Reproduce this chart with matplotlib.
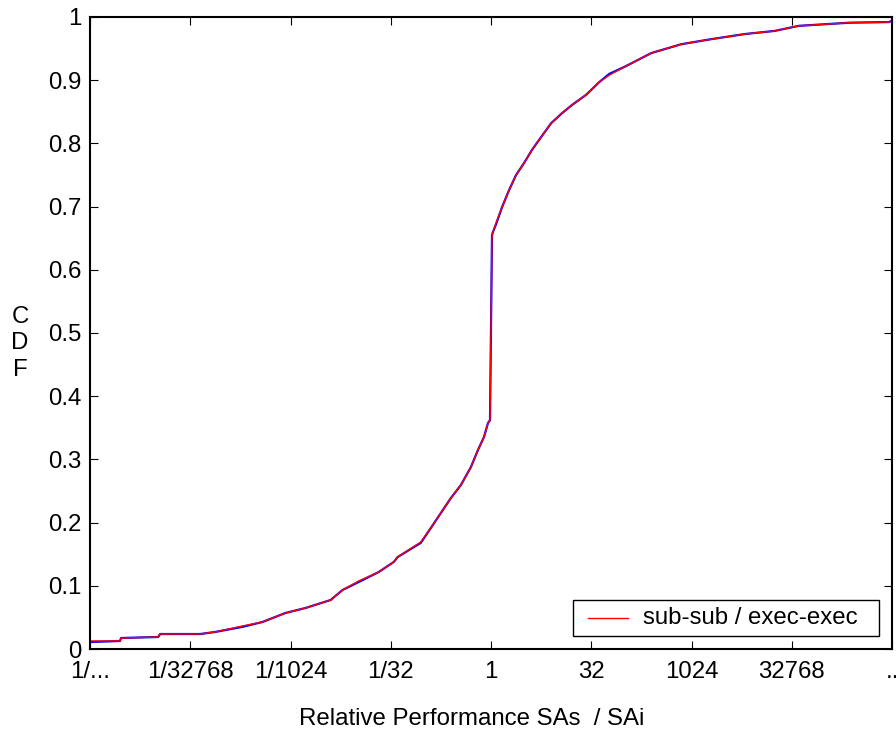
import matplotlib
matplotlib.use("Agg")
from matplotlib import pyplot
from matplotlib.patches import Rectangle
from numpy import array

pyplot.rcParams["font.family"] = ["Liberation Sans", "DejaVu Sans"]

# log2 of the ratio SAs / SAi and the cumulative fraction
ratio_log2 = [
    -20.0, -18.5, -18.45, -16.6, -16.5, -14.5, -13.75, -12.4, -11.4, -10.25,
    -9.25, -8.0, -7.4, -6.6, -5.6, -4.85, -4.65, -3.5, -3.0, -2.5,
    -2.0, -1.5, -1.0, -0.65, -0.35, -0.15, -0.05, 0.05, 0.1, 0.25,
    0.55, 0.9, 1.25, 1.65, 2.05, 2.5, 3.0, 3.55, 4.05, 4.75,
    5.4, 5.9, 6.65, 8.0, 9.5, 11.0, 12.65, 14.15, 15.35, 17.9,
    19.85, 20.0,
]
cdf_sub = [
    0.0127, 0.0127, 0.0174, 0.019, 0.0237, 0.0237, 0.027, 0.0364, 0.0427, 0.057,
    0.0649, 0.0775, 0.0934, 0.1076, 0.1218, 0.1377, 0.1456, 0.1693, 0.1915, 0.2152,
    0.2389, 0.2595, 0.288, 0.3149, 0.3354, 0.3576, 0.362, 0.655, 0.66, 0.674,
    0.699, 0.726, 0.75, 0.769, 0.79, 0.81, 0.832, 0.848, 0.861, 0.877,
    0.897, 0.908, 0.921, 0.943, 0.957, 0.965, 0.973, 0.978, 0.986, 0.991,
    0.992, 0.994,
]
cdf_exec = [
    0.0110, 0.0127, 0.0174, 0.019, 0.0237, 0.0237, 0.027, 0.0350, 0.0427, 0.057,
    0.0649, 0.0775, 0.0934, 0.1060, 0.1218, 0.1377, 0.1456, 0.1680, 0.1915, 0.2152,
    0.2389, 0.2595, 0.288, 0.3149, 0.3354, 0.3576, 0.362, 0.655, 0.66, 0.672,
    0.699, 0.726, 0.75, 0.769, 0.79, 0.81, 0.832, 0.848, 0.861, 0.877,
    0.897, 0.910, 0.921, 0.943, 0.957, 0.965, 0.973, 0.978, 0.986, 0.991,
    0.992, 0.994,
]

x_ticks_log2 = [-20, -15, -10, -5, 0, 5, 10, 15, 20]
x_tick_labels = ["1/...", "1/32768", "1/1024", "1/32", "1", "32", "1024", "32768", ".."]
y_ticks = [0, 0.1, 0.2, 0.3, 0.4, 0.5, 0.6, 0.7, 0.8, 0.9, 1]
y_tick_labels = ["0", "0.1", "0.2", "0.3", "0.4", "0.5", "0.6", "0.7", "0.8", "0.9", "1"]
legend_label = "sub-sub / exec-exec"

font_size = 17.3

fig = pyplot.figure(
    figsize=(8.96, 7.36),
    dpi=100,
)
ax = fig.add_axes([90 / 896, 1 - 649 / 736, 802 / 896, 632 / 736])

ratio = 2.0 ** array(ratio_log2)
ax.plot(
    ratio,
    cdf_exec,
    color="blue",
    linewidth=1.6,
)
ax.plot(
    ratio,
    cdf_sub,
    color="red",
    linewidth=1.0,
)

ax.set_xscale("log", base=2)
ax.set_xlim(2.0 ** -20, 2.0 ** 20)
ax.set_ylim(0, 1)
ax.set_xticks([2.0 ** k for k in x_ticks_log2])
ax.set_xticklabels(x_tick_labels)
ax.xaxis.set_minor_locator(matplotlib.ticker.NullLocator())
ax.set_yticks(y_ticks)
ax.set_yticklabels(y_tick_labels)
ax.tick_params(
    axis="both",
    which="major",
    direction="in",
    length=5.8,
    width=0.8,
    top=True,
    right=True,
    labelsize=font_size,
    color="black",
)
ax.tick_params(axis="x", pad=9)
ax.tick_params(axis="y", pad=6)
for spine in ax.spines.values():
    spine.set_linewidth(1.5)


# key box, placed in pixel units of the axes area
def px_x(p):
    return (p - 90) / 802


def px_y(p):
    return (649 - p) / 632


ax.add_patch(Rectangle(
    (px_x(573), px_y(636)),
    px_x(879) - px_x(573),
    px_y(600) - px_y(636),
    transform=ax.transAxes,
    facecolor="white",
    edgecolor="black",
    linewidth=1.0,
    zorder=5,
))
ax.plot(
    [px_x(588), px_x(628)],
    [px_y(618), px_y(618)],
    transform=ax.transAxes,
    color="red",
    linewidth=1.0,
    zorder=6,
)
ax.text(
    px_x(643),
    px_y(618),
    legend_label,
    transform=ax.transAxes,
    ha="left",
    va="center",
    fontsize=font_size,
    zorder=6,
)

fig.text(
    472 / 896,
    1 - 719 / 736,
    "Relative Performance SAs  / SAi",
    ha="center",
    va="center",
    fontsize=font_size,
)
for letter, ypix in zip("CDF", [317, 343, 370]):
    fig.text(
        20 / 896,
        1 - ypix / 736,
        letter,
        ha="center",
        va="center",
        fontsize=font_size,
    )

pyplot.savefig("out.png")
